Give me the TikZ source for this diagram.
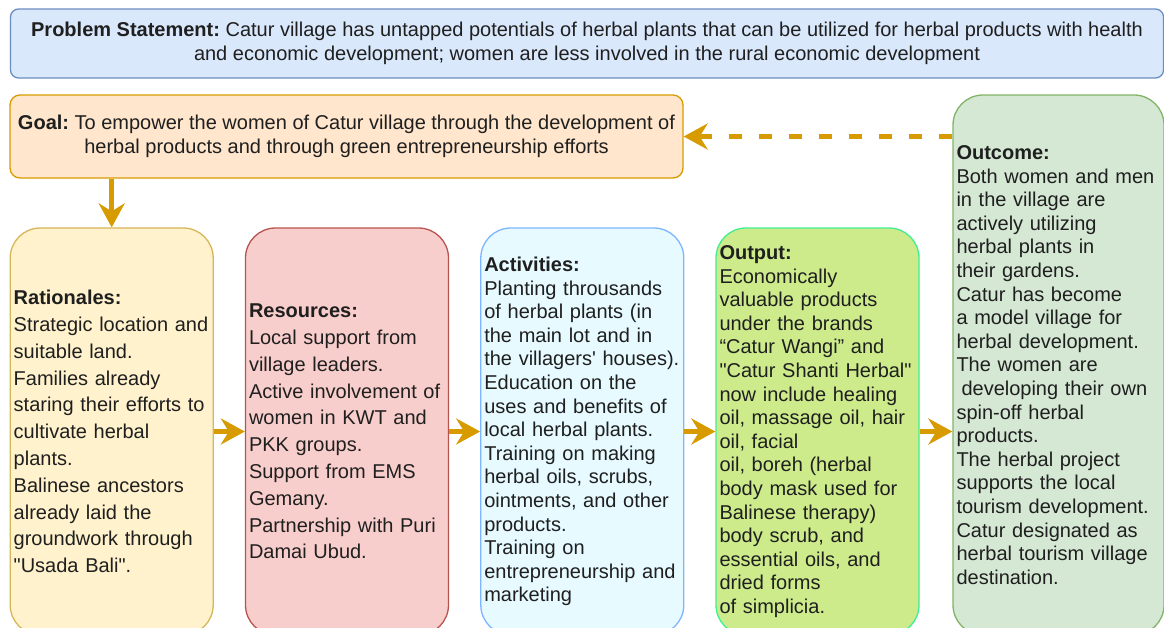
\documentclass[tikz,border=0pt]{standalone}
\usepackage{fontspec}
\setmainfont{Liberation Sans}
\usetikzlibrary{arrows.meta}
\frenchspacing

\definecolor{txt}{HTML}{1F1F1F}
\definecolor{gold}{HTML}{D79B00}
\definecolor{probfill}{HTML}{DAE8FC}\definecolor{probline}{HTML}{6C8EBF}
\definecolor{goalfill}{HTML}{FFE6CC}\definecolor{goalline}{HTML}{D79B00}
\definecolor{ratfill}{HTML}{FFF2CC}\definecolor{ratline}{HTML}{D6B656}
\definecolor{resfill}{HTML}{F8CECC}\definecolor{resline}{HTML}{B85450}
\definecolor{actfill}{HTML}{E6FAFF}\definecolor{actline}{HTML}{7EB5FF}
\definecolor{outfill}{HTML}{CDEB8B}\definecolor{outline}{HTML}{40EE90}
\definecolor{ocfill}{HTML}{D5E8D4}\definecolor{ocline}{HTML}{82B366}

\tikzset{
  panel/.style={draw, rounded corners=30pt, line width=1.3pt, minimum width=203pt,
    minimum height=407pt, inner xsep=3.5pt, text width=196pt, align=left, text=txt,
    font=\fontsize{20}{23.6}\selectfont},
  banner/.style={draw, line width=1.3pt, align=center, text=txt,
    font=\fontsize{20}{24}\selectfont},
  flow/.style={draw=gold, line width=4.5pt, -{Stealth[length=24pt, width=26pt, inset=8pt]}},
}

\begin{document}
\begin{tikzpicture}[x=1pt, y=-1pt]
    \useasboundingbox (0,0) rectangle (1164,627);

    % top row
    \node[banner, fill=probfill, draw=probline, rounded corners=8pt, minimum width=1153pt, minimum height=69pt] (prob) at (587,43.5)
      {\textbf{Problem Statement:} Catur village has untapped potentials of herbal plants that can be utilized for herbal products with health\\ and economic development; women are less involved in the rural economic development};
    \node[banner, fill=goalfill, draw=goalline, rounded corners=10pt, minimum width=673pt, minimum height=83pt] (goal) at (346.5,136.5)
      {\textbf{Goal:} To empower the women of Catur village through the development of\\ herbal products and through green entrepreneurship efforts};

    % columns
    \node[panel, fill=ratfill, draw=ratline, font=\fontsize{20}{26.8}\selectfont] (rat) at (111.7,431.5)
      {\textbf{Rationales:}\\ Strategic location and\\ suitable land.\\ Families already\\ staring their efforts to\\ cultivate herbal\\ plants.\\ Balinese ancestors\\ already laid the\\ groundwork through\\ \textquotedbl Usada Bali\textquotedbl.};
    \node[panel, fill=resfill, draw=resline, font=\fontsize{20}{26.8}\selectfont] (res) at (347,431.5)
      {\textbf{Resources:}\\ Local support from\\ village leaders.\\ Active involvement of\\ women in KWT and\\ PKK groups.\\ Support from EMS\\ Gemany.\\ Partnership with Puri\\ Damai Ubud.};
    \node[panel, fill=actfill, draw=actline] (act) at (582.3,431.5)
      {\textbf{Activities:}\\ Planting throusands\\ of herbal plants (in\\ the main lot and in\\ the villagers\textquotesingle{} houses).\\ Education on the\\ uses and benefits of\\ local herbal plants.\\ Training on making\\ herbal oils, scrubs,\\ ointments, and other\\ products.\\ Training on\\ entrepreneurship and\\ marketing};
    \node[panel, fill=outfill, draw=outline] (outp) at (817.5,431.5)
      {\textbf{Output:}\\ Economically\\ valuable products\\ under the brands\\ “Catur Wangi” and\\ \textquotedbl Catur Shanti Herbal\textquotedbl\\ now include healing\\ oil, massage oil, hair\\ oil, facial\\ oil, boreh (herbal\\ body mask used for\\ Balinese therapy)\\ body scrub, and\\ essential oils, and\\ dried forms\\ of simplicia.};
    \node[panel, fill=ocfill, draw=ocline, minimum width=211pt, minimum height=540pt, text width=204pt] (outc) at (1058.5,365)
      {\textbf{Outcome:}\\ Both women and men\\ in the village are\\ actively utilizing\\ herbal plants in\\ their gardens.\\ Catur has become\\ a model village for\\ herbal development.\\ The women are\\ \hspace*{5pt}developing their own\\ spin-off herbal\\ products.\\ The herbal project\\ supports the local\\ tourism development.\\ Catur designated as\\ herbal tourism village\\ destination.};

    % connectors
    \draw[flow] (goal.south -| rat.north) -- (rat.north);
    \draw[flow, dash pattern=on 13pt off 17pt] (outc.west |- goal.east) -- (goal.east);
    \foreach \a/\b in {rat/res, res/act, act/outp, outp/outc}
      \draw[flow] (\a.east) -- (\b.west |- \a.east);
\end{tikzpicture}
\end{document}
